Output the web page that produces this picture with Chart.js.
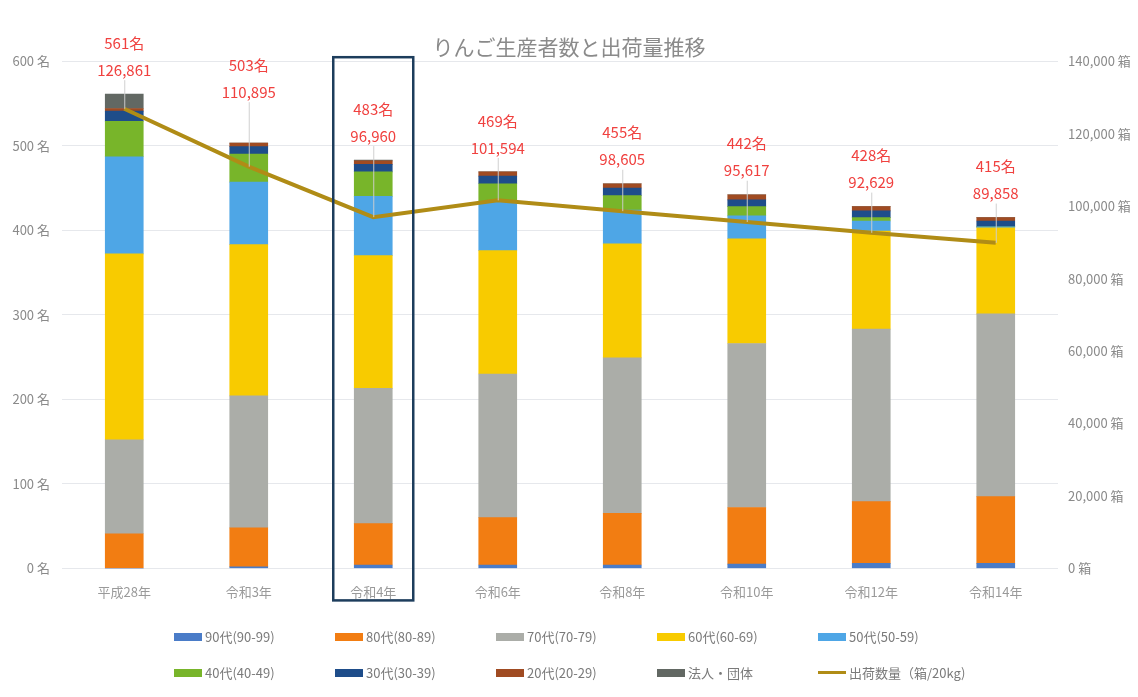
<!DOCTYPE html>
<html lang="ja">
<head>
    <meta charset="UTF-8">
    <title>りんご生産者数と出荷量推移</title>
    <script src="https://cdn.jsdelivr.net/npm/chart.js"></script>
    <style>
        body {
            margin: 0;
            background: #ffffff;
            font-family: "Noto Sans CJK JP", sans-serif;
        }

        .wrap {
            position: relative;
            width: 1138px;
            height: 697px;
        }

        #legend {
            position: absolute;
            left: 0;
            top: 0;
            width: 1138px;
            height: 697px;
            pointer-events: none;
        }

        .item {
            position: absolute;
            display: flex;
            align-items: center;
            font-size: 13px;
            color: #7a7a7a;
            white-space: nowrap;
        }

        .swatch {
            width: 28px;
            height: 8px;
            margin-right: 3px;
        }

        .swatch.line {
            height: 3px;
        }
    </style>
</head>
<body>

    <div class="wrap">
        <canvas id="grafico" width="1138" height="697"></canvas>
        <div id="legend"></div>
    </div>

    <script>
        // 年次
        const categories = ["平成28年", "令和3年", "令和4年", "令和6年", "令和8年", "令和10年", "令和12年", "令和14年"];

        // 年代別の生産者数（名）
        const age90 = [0, 2, 4, 4, 4, 5, 6, 6];
        const age80 = [41, 46, 49, 56, 61, 67, 73, 79];
        const age70 = [111, 156, 160, 170, 184, 194, 204, 216];
        const age60 = [220, 179, 157, 146, 135, 124, 116, 102];
        const age50 = [115, 74, 70, 57, 40, 27, 12, 1];
        const age40 = [42, 33, 29, 22, 17, 11, 4, 0];
        const age30 = [12, 9, 9, 9, 9, 8, 8, 7];
        const age20 = [3, 4, 4, 5, 5, 6, 5, 4];
        const corp = [17, 0, 1, 0, 0, 0, 0, 0];

        // 出荷数量（箱/20kg）
        const shipments = [126861, 110895, 96960, 101594, 98605, 95617, 92629, 89858];

        // 軸の目盛
        const leftTicks = [0, 100, 200, 300, 400, 500, 600];
        const rightTicks = [0, 20000, 40000, 60000, 80000, 100000, 120000, 140000];

        const labelFont = "'Liberation Sans Narrow', 'Noto Sans CJK JP', sans-serif";

        function barSet(label, data, color) {
            return {
                type: "bar",
                label: label,
                data: data,
                backgroundColor: color,
                yAxisID: "y",
                stack: "s",
                order: 1,
                barThickness: 38
            };
        }

        const datasets = [
            barSet("90代(90-99)", age90, "#4a7cc8"),
            barSet("80代(80-89)", age80, "#f27d12"),
            barSet("70代(70-79)", age70, "#abada8"),
            barSet("60代(60-69)", age60, "#f8cb00"),
            barSet("50代(50-59)", age50, "#4ea6e6"),
            barSet("40代(40-49)", age40, "#78b52a"),
            barSet("30代(30-39)", age30, "#1e4d8a"),
            barSet("20代(20-29)", age20, "#a04b22"),
            barSet("法人・団体", corp, "#626863"),
            {
                type: "line",
                label: "出荷数量（箱/20kg)",
                data: shipments,
                borderColor: "#b08c16",
                backgroundColor: "#b08c16",
                borderWidth: 4,
                pointRadius: 0,
                tension: 0,
                yAxisID: "y1",
                order: 0
            }
        ];

        // 合計ラベル・引出線・令和4年の枠
        const annotate = {
            id: "annotate",
            afterDatasetsDraw(chart, args, opts) {
                const ctx = chart.ctx;
                const x = chart.scales.x;
                const y = chart.scales.y;
                const y1 = chart.scales.y1;
                const nudge = opts.nudge;

                ctx.save();
                categories.forEach((c, i) => {
                    let total = 0;
                    chart.data.datasets.forEach(ds => {
                        if (ds.type === "bar") total += ds.data[i];
                    });
                    const cx = x.getPixelForValue(i);
                    const top = y.getPixelForValue(total) - (nudge[i] || 0);
                    const lineY = y1.getPixelForValue(shipments[i]);

                    // 引出線
                    ctx.strokeStyle = "rgba(205,205,205,0.95)";
                    ctx.lineWidth = 1;
                    ctx.beginPath();
                    ctx.moveTo(cx + 0.5, top - 14);
                    ctx.lineTo(cx + 0.5, lineY);
                    ctx.stroke();

                    ctx.fillStyle = "#f0413f";
                    ctx.textAlign = "center";
                    ctx.textBaseline = "middle";
                    ctx.font = "15px " + labelFont;
                    ctx.fillText(total + "名", cx, top - 51);
                    ctx.fillText(shipments[i].toLocaleString("en-US"), cx, top - 24);
                });

                // 令和4年の枠
                const hx = x.getPixelForValue(opts.highlight);
                ctx.strokeStyle = "#1d3d5c";
                ctx.lineWidth = 2.5;
                ctx.strokeRect(hx - 40, chart.chartArea.top - 4, 80, chart.chartArea.bottom - chart.chartArea.top + 36);
                ctx.restore();
            }
        };

        const chart = new Chart(document.getElementById("grafico").getContext("2d"), {
            data: {
                labels: categories,
                datasets: datasets
            },
            options: {
                responsive: false,
                animation: false,
                layout: {
                    padding: { top: 0, bottom: 89, left: 0, right: 0 }
                },
                plugins: {
                    legend: { display: false },
                    tooltip: { enabled: false },
                    title: {
                        display: true,
                        text: "りんご生産者数と出荷量推移",
                        color: "#8a8a8a",
                        font: { family: "'Noto Sans CJK JP', sans-serif", size: 21, weight: "normal" },
                        padding: { top: 34, bottom: 2 }
                    },
                    annotate: {
                        highlight: 2,
                        nudge: [0, 27, 0, 0, 0, 0, 0, 0]
                    }
                },
                scales: {
                    x: {
                        grid: { display: false },
                        border: { display: false },
                        ticks: {
                            color: "#9a9a9a",
                            padding: 8,
                            font: { family: "'Noto Sans CJK JP', sans-serif", size: 13 }
                        }
                    },
                    y: {
                        position: "left",
                        stacked: true,
                        min: 0,
                        max: 600,
                        afterFit(scale) { scale.width = 62; },
                        afterBuildTicks(scale) { scale.ticks = leftTicks.map(v => ({ value: v })); },
                        grid: { color: "#e6e8ec", drawTicks: false },
                        border: { display: false },
                        ticks: {
                            color: "#8a8a8a",
                            padding: 12,
                            font: { family: "'Noto Sans CJK JP', sans-serif", size: 13 },
                            callback: v => v + " 名"
                        }
                    },
                    y1: {
                        position: "right",
                        min: 0,
                        max: 140000,
                        afterFit(scale) { scale.width = 80; },
                        afterBuildTicks(scale) { scale.ticks = rightTicks.map(v => ({ value: v })); },
                        grid: { display: false, drawTicks: false },
                        border: { display: false },
                        ticks: {
                            color: "#8a8a8a",
                            padding: 10,
                            font: { family: "'Noto Sans CJK JP', sans-serif", size: 13 },
                            callback: v => v.toLocaleString("en-US") + " 箱"
                        }
                    }
                }
            },
            plugins: [annotate]
        });

        // 凡例（5列×2行）
        const legend = document.getElementById("legend");
        chart.data.datasets.forEach((ds, i) => {
            const item = document.createElement("div");
            item.className = "item";
            item.style.left = (174 + (i % 5) * 161) + "px";
            item.style.top = (627 + Math.floor(i / 5) * 36) + "px";
            const sw = document.createElement("span");
            sw.className = ds.type === "line" ? "swatch line" : "swatch";
            sw.style.background = ds.type === "line" ? ds.borderColor : ds.backgroundColor;
            const tx = document.createElement("span");
            tx.textContent = ds.label;
            item.appendChild(sw);
            item.appendChild(tx);
            legend.appendChild(item);
        });
    </script>

</body>
</html>
